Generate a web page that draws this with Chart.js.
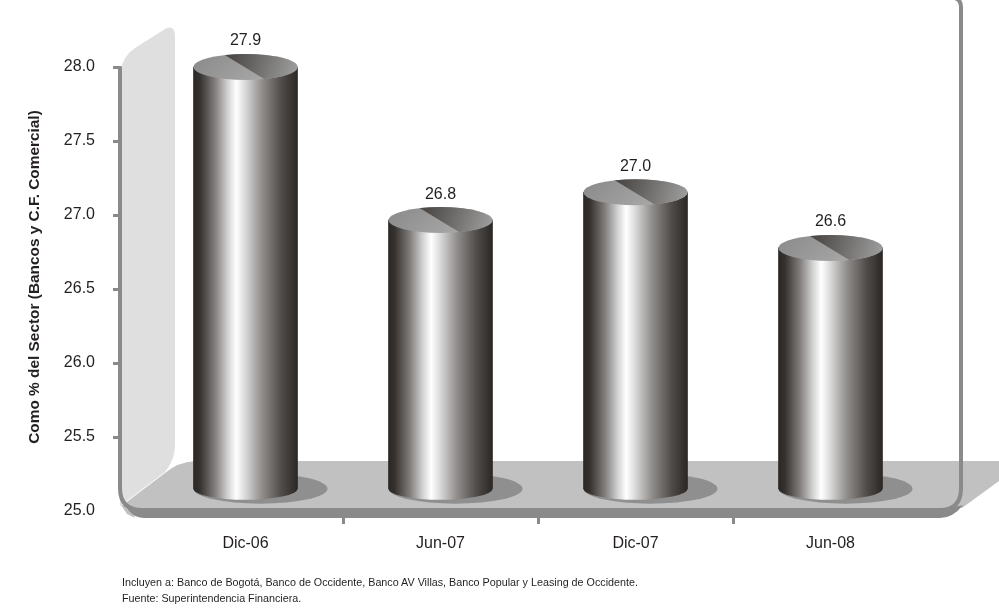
<!DOCTYPE html>
<html>
<head>
<meta charset="utf-8">
<style>
  body { margin: 0; background: #fff; }
  #wrap { position: relative; width: 999px; height: 610px; overflow: hidden; }
  canvas { display: block; }
  #notes { position: absolute; left: 122px; top: 574px; font: 10.75px/16px "Liberation Sans", sans-serif; color: #231f20; }
</style>
<script src="https://cdn.jsdelivr.net/npm/chart.js@4"></script>
</head>
<body>
<div id="wrap">
  <canvas id="chart" width="999" height="610"></canvas>
  <div id="notes">Incluyen a: Banco de Bogotá, Banco de Occidente, Banco AV Villas, Banco Popular y Leasing de Occidente.<br>Fuente: Superintendencia Financiera.</div>
</div>
<script>
const CATEGORIES = ['Dic-06', 'Jun-07', 'Dic-07', 'Jun-08'];
const VALUES = [27.9, 26.8, 27.0, 26.6];
const AXIS_TICKS = [25.0, 25.5, 26.0, 26.5, 27.0, 27.5, 28.0];
const AXIS_TITLE = 'Como % del Sector (Bancos y C.F. Comercial)';

const FONT = '"Liberation Sans", sans-serif';
const INK = '#231f20';
const FRAME = '#8a8a8a';

function bodyGradient(ctx, left, right) {
    const g = ctx.createLinearGradient(left, 0, right, 0);
    g.addColorStop(0, '#2b2724');
    g.addColorStop(0.06, '#35312e');
    g.addColorStop(0.2, '#7d7a78');
    g.addColorStop(0.33, '#d2d2d2');
    g.addColorStop(0.41, '#ffffff');
    g.addColorStop(0.47, '#e6e6e6');
    g.addColorStop(0.66, '#8f8c8a');
    g.addColorStop(0.85, '#4f4b48');
    g.addColorStop(1, '#2b2724');
    return g;
}

// the backdrop (wall, floor, frame) and the cylinder ends around the bars
const cylinders = {
    id: 'cylinders',
    beforeDatasetsDraw(chart) {
        const ctx = chart.ctx;
        ctx.save();

        // left wall
        ctx.fillStyle = '#dfdfdf';
        ctx.beginPath();
        ctx.moveTo(120, 506);
        ctx.lineTo(120, 72);
        ctx.quadraticCurveTo(123, 56, 135, 48);
        ctx.lineTo(165, 29);
        ctx.quadraticCurveTo(175, 24, 175, 37);
        ctx.lineTo(175, 445);
        ctx.quadraticCurveTo(175, 460, 165, 472);
        ctx.closePath();
        ctx.fill();

        // floor
        ctx.fillStyle = '#c1c1c1';
        ctx.beginPath();
        ctx.moveTo(124, 504);
        ctx.lineTo(165, 473);
        ctx.quadraticCurveTo(178, 462, 195, 461);
        ctx.lineTo(999, 461);
        ctx.lineTo(999, 481);
        ctx.lineTo(962, 508);
        ctx.lineTo(135, 510);
        ctx.closePath();
        ctx.fill();

        // pale sliver under the frame corner
        ctx.fillStyle = '#c1c1c1';
        ctx.beginPath();
        ctx.moveTo(121, 505);
        ctx.lineTo(127, 514);
        ctx.lineTo(135, 518);
        ctx.lineTo(130, 505);
        ctx.closePath();
        ctx.fill();

        // frame
        ctx.strokeStyle = FRAME;
        ctx.lineWidth = 4;
        ctx.beginPath();
        ctx.moveTo(120, 67);
        ctx.lineTo(120, 488);
        ctx.quadraticCurveTo(120, 510, 142, 510);
        ctx.lineTo(940, 510);
        ctx.quadraticCurveTo(961, 510, 961, 488);
        ctx.lineTo(961, 7);
        ctx.quadraticCurveTo(961, 0, 955, -2);
        ctx.stroke();

        ctx.fillStyle = FRAME;
        ctx.beginPath();
        ctx.moveTo(125, 503);
        ctx.quadraticCurveTo(130, 518, 145, 518);
        ctx.lineTo(940, 518);
        ctx.quadraticCurveTo(953, 518, 963, 505);
        ctx.lineTo(950, 508);
        ctx.lineTo(135, 508);
        ctx.closePath();
        ctx.fill();

        // floor shadows
        const meta = chart.getDatasetMeta(0);
        ctx.fillStyle = '#8f8f8f';
        meta.data.forEach(bar => {
            ctx.beginPath();
            ctx.ellipse(bar.x + 15, bar.base, 67, 15, 0, 0, Math.PI * 2);
            ctx.fill();
        });

        // axis title, a bit above the middle of the axis
        ctx.translate(35, 277);
        ctx.rotate(-Math.PI / 2);
        ctx.fillStyle = INK;
        ctx.font = 'bold 15.4px ' + FONT;
        ctx.textAlign = 'center';
        ctx.textBaseline = 'middle';
        ctx.fillText(AXIS_TITLE, 0, 0);
        ctx.restore();
    },
    afterDatasetsDraw(chart) {
        const ctx = chart.ctx;
        const meta = chart.getDatasetMeta(0);
        ctx.save();
        meta.data.forEach((bar, i) => {
            const rx = bar.width / 2;

            // rounded foot
            ctx.fillStyle = bodyGradient(ctx, bar.x - rx, bar.x + rx);
            ctx.beginPath();
            ctx.ellipse(bar.x, bar.base, rx, 11, 0, 0, Math.PI);
            ctx.fill();

            // top lid
            const lid = ctx.createLinearGradient(bar.x - rx * 0.5, bar.y - 30, bar.x + rx * 0.5, bar.y + 30);
            lid.addColorStop(0, '#8b8b8b');
            lid.addColorStop(1, '#b0b0b0');
            ctx.fillStyle = lid;
            ctx.beginPath();
            ctx.ellipse(bar.x, bar.y, rx, 13, 0, 0, Math.PI * 2);
            ctx.fill();

            // darker wedge on the back right of the lid
            const wedge = ctx.createLinearGradient(bar.x - 12, bar.y - 13, bar.x + rx, bar.y + 8);
            wedge.addColorStop(0, '#4d4a48');
            wedge.addColorStop(1, '#a0a0a0');
            ctx.fillStyle = wedge;
            ctx.save();
            ctx.beginPath();
            ctx.ellipse(bar.x, bar.y, rx, 13, 0, 0, Math.PI * 2);
            ctx.clip();
            ctx.beginPath();
            ctx.moveTo(bar.x - 24, bar.y - 14);
            ctx.lineTo(bar.x + 60, bar.y - 14);
            ctx.lineTo(bar.x + 60, bar.y + 14);
            ctx.lineTo(bar.x + 22, bar.y + 14);
            ctx.closePath();
            ctx.fill();
            ctx.restore();

            // value label
            ctx.fillStyle = INK;
            ctx.font = '16px ' + FONT;
            ctx.textAlign = 'center';
            ctx.textBaseline = 'middle';
            ctx.fillText(VALUES[i].toFixed(1), bar.x, bar.y - 26);
        });
        ctx.restore();
    },
};

new Chart(document.getElementById('chart').getContext('2d'), {
    type: 'bar',
    data: {
        labels: CATEGORIES,
        datasets: [{
            data: VALUES,
            yAxisID: 'yBars',
            base: 24.87,
            barThickness: 104,
            borderWidth: 0,
            backgroundColor(c) {
                const x = c.chart.scales.x.getPixelForValue(c.dataIndex);
                if (!Number.isFinite(x)) return '#888';
                return bodyGradient(c.chart.ctx, x - 52, x + 52);
            },
        }],
    },
    plugins: [cylinders],
    options: {
        responsive: false,
        animation: false,
        devicePixelRatio: 1,
        layout: { padding: { top: 67, right: 71, left: 0, bottom: 0 } },
        plugins: { legend: { display: false }, tooltip: { enabled: false } },
        scales: {
            x: {
                afterFit(s) { s.height = 99; },
                border: { display: false },
                grid: {
                    drawOnChartArea: false,
                    tickLength: 13,
                    tickWidth: 3,
                    tickColor: c => (c.index === 0 || c.tick === undefined ? 'transparent' : FRAME),
                },
                ticks: { color: INK, padding: 10, maxRotation: 0, font: { family: FONT, size: 16 } },
            },
            y: {
                min: 25,
                max: 28,
                afterFit(s) { s.width = 148; },
                afterBuildTicks(s) { s.ticks = AXIS_TICKS.map(v => ({ value: v })); },
                border: { display: false },
                grid: {
                    drawOnChartArea: false,
                    tickLength: 35,
                    tickWidth: 3,
                    tickColor: c => (c.index === 0 ? 'transparent' : FRAME),
                },
                ticks: { color: INK, padding: 18, callback: v => v.toFixed(1), font: { family: FONT, size: 16 } },
            },
            // bars stand on the 3D floor, so they get their own hidden scale
            yBars: { display: false, min: 24.71, max: 27.9 },
        },
    },
});
</script>
</body>
</html>
